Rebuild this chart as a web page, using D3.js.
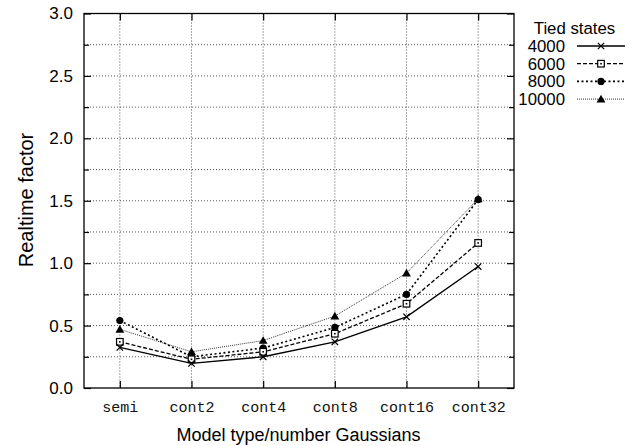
<!DOCTYPE html>
<html>
<head>
<meta charset="utf-8">
<script src="https://cdn.jsdelivr.net/npm/d3@7/dist/d3.min.js"></script>
<style>
  html, body { margin: 0; padding: 0; background: #fff; }
  svg { display: block; }
  text { font-family: "Liberation Sans", Arial, Helvetica, sans-serif; fill: #000; }
  text.mono { font-family: "Liberation Mono", "Courier New", monospace; fill: #111; }
</style>
</head>
<body>
<svg id="chart" width="634" height="446"></svg>
<script>
// Model configurations on the x axis
const categories = ["semi", "cont2", "cont4", "cont8", "cont16", "cont32"];

// Realtime factor per number of tied states
const states4000  = [0.325, 0.197, 0.25, 0.37, 0.57, 0.973];
const states6000  = [0.37, 0.23, 0.29, 0.435, 0.675, 1.162];
const states8000  = [0.54, 0.25, 0.32, 0.485, 0.75, 1.51];
const states10000 = [0.47, 0.29, 0.38, 0.576, 0.92, 1.515];

const seriesNames = ["4000", "6000", "8000", "10000"];
const yTicks = [0.0, 0.5, 1.0, 1.5, 2.0, 2.5, 3.0];
const yMinorTicks = [0.25, 0.75, 1.25, 1.75, 2.25, 2.75];

const series = [
  { name: seriesNames[0], values: states4000,  dash: null,    width: 1.4, color: "#000", marker: "cross" },
  { name: seriesNames[1], values: states6000,  dash: "4,2",   width: 1.3, color: "#000", marker: "square" },
  { name: seriesNames[2], values: states8000,  dash: "2,2.5", width: 1.6, color: "#000", marker: "circle" },
  { name: seriesNames[3], values: states10000, dash: "1,1",   width: 1.0, color: "#333", marker: "triangle" }
];

const svg = d3.select("#chart");
const L = 84, R = 514, T = 13.5, B = 388;

const x = d3.scaleLinear().domain([-0.5, categories.length - 0.5]).range([L, R]);
const y = d3.scaleLinear().domain([0, 3]).range([B, T]);

// Dotted grid
const grid = svg.append("g").attr("stroke", "#555").attr("stroke-width", 1)
  .attr("stroke-dasharray", "1,2").attr("fill", "none");
yTicks.concat(yMinorTicks).filter(v => v > 0 && v < 3).forEach(v => {
  grid.append("line").attr("x1", L).attr("x2", R).attr("y1", y(v)).attr("y2", y(v));
});
categories.forEach((c, i) => {
  grid.append("line").attr("x1", x(i)).attr("x2", x(i)).attr("y1", T).attr("y2", B);
});

// Axes with inward ticks
const yAxisL = d3.axisLeft(y).tickValues(yTicks).tickFormat(d3.format(".1f")).tickSize(-7).tickPadding(11);
const yAxisR = d3.axisRight(y).tickValues(yTicks).tickFormat("").tickSize(-7);
const yMinorL = d3.axisLeft(y).tickValues(yMinorTicks).tickFormat("").tickSize(-5);
const yMinorR = d3.axisRight(y).tickValues(yMinorTicks).tickFormat("").tickSize(-5);
const xAxisB = d3.axisBottom(x).tickValues(d3.range(categories.length))
  .tickFormat(i => categories[i]).tickSize(-7).tickPadding(13);
const xAxisT = d3.axisTop(x).tickValues(d3.range(categories.length)).tickFormat("").tickSize(-7);

function styleAxis(g) {
  g.select(".domain").remove();
  g.selectAll(".tick line").attr("stroke", "#000").attr("stroke-width", 1.2);
}

svg.append("g").attr("transform", `translate(${L},0)`).call(yAxisL).call(styleAxis)
  .selectAll("text").attr("font-size", 17);
svg.append("g").attr("transform", `translate(${L},0)`).call(yMinorL).call(styleAxis);
svg.append("g").attr("transform", `translate(${R},0)`).call(yAxisR).call(styleAxis);
svg.append("g").attr("transform", `translate(${R},0)`).call(yMinorR).call(styleAxis);
svg.append("g").attr("transform", `translate(0,${B})`).call(xAxisB).call(styleAxis)
  .selectAll("text").attr("class", "mono").attr("font-size", 15);
svg.append("g").attr("transform", `translate(0,${T})`).call(xAxisT).call(styleAxis);

// Frame
svg.append("rect").attr("x", L).attr("y", T).attr("width", R - L).attr("height", B - T)
  .attr("fill", "none").attr("stroke", "#000").attr("stroke-width", 1.3);

// Axis titles
svg.append("text").attr("x", 298.5).attr("y", 441).attr("text-anchor", "middle")
  .attr("font-size", 18).text("Model type/number Gaussians");
svg.append("text").attr("transform", "translate(33,200) rotate(-90)")
  .attr("text-anchor", "middle").attr("font-size", 20).text("Realtime factor");

// Marker drawing
function drawMarker(g, type, cx, cy) {
  if (type === "cross") {
    const s = 3.2;
    g.append("path").attr("d", `M${cx - s},${cy - s}L${cx + s},${cy + s}M${cx - s},${cy + s}L${cx + s},${cy - s}`)
      .attr("stroke", "#000").attr("stroke-width", 1.2).attr("fill", "none");
  } else if (type === "square") {
    g.append("rect").attr("x", cx - 3.3).attr("y", cy - 3.3).attr("width", 6.6).attr("height", 6.6)
      .attr("fill", "#fff").attr("stroke", "#000").attr("stroke-width", 1.2);
    g.append("rect").attr("x", cx - 0.8).attr("y", cy - 0.8).attr("width", 1.6).attr("height", 1.6)
      .attr("fill", "#000");
  } else if (type === "circle") {
    g.append("circle").attr("cx", cx).attr("cy", cy).attr("r", 3.6).attr("fill", "#000");
  } else if (type === "triangle") {
    const s = 4.4;
    g.append("path").attr("d", `M${cx},${cy - s}L${cx + s},${cy + s * 0.75}L${cx - s},${cy + s * 0.75}Z`)
      .attr("fill", "#000");
  }
}

// Series lines and markers
const line = d3.line().x((d, i) => x(i)).y(d => y(d));
const plot = svg.append("g");
series.slice().reverse().forEach(s => {
  plot.append("path").datum(s.values).attr("d", line).attr("fill", "none")
    .attr("stroke", s.color).attr("stroke-width", s.width)
    .attr("stroke-dasharray", s.dash);
  s.values.forEach((v, i) => drawMarker(plot, s.marker, x(i), y(v)));
});

// Legend
const leg = svg.append("g");
leg.append("text").attr("x", 574.5).attr("y", 34).attr("text-anchor", "middle")
  .attr("font-size", 16.8).text("Tied states");
series.forEach((s, k) => {
  const ly = 46 + k * 17.7;
  leg.append("text").attr("x", 565).attr("y", ly + 5.8).attr("text-anchor", "end")
    .attr("font-size", 16.8).text(s.name);
  leg.append("line").attr("x1", 577).attr("x2", 625).attr("y1", ly).attr("y2", ly)
    .attr("stroke", s.color).attr("stroke-width", s.width).attr("stroke-dasharray", s.dash);
  drawMarker(leg, s.marker, 601, ly);
});
</script>
</body>
</html>
